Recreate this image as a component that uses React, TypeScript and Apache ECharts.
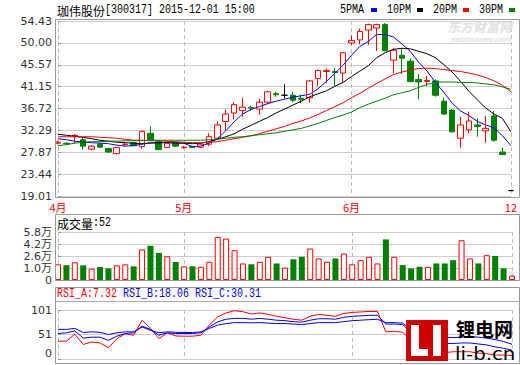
import React, { useEffect, useRef } from 'react';
import * as echarts from 'echarts';

// ---------- data ----------
const monthTickIndex = [0, 15, 35, 54];
const monthTickText = ['4月', '5月', '6月', '12'];
const priceTicks = [19.01, 23.44, 27.87, 32.29, 36.72, 41.15, 45.57, 50.0, 54.43];
const volumeTicks = [1.0, 2.6, 4.2, 5.8];
const volumeZeroTick = [0];
const rsiTicks = [0, 51, 101];

const open = [29.7, 29.7, 31.2, 30.4, 28.5, 29.5, 28.6, 27.6, 29.4, 29.8,
  29.0, 31.7, 30.0, 28.8, 29.7, 28.8, 29.0, 28.9, 29.5, 30.7,
  34.1, 35.8, 36.3, 36.9, 36.6, 38.0, 39.7, 39.4, 39.4, 38.8,
  38.9, 42.8, 44.2, 44.2, 43.9, 50.0, 50.6, 52.6, 53.0, 53.7,
  46.5, 47.5, 46.3, 42.6, 42.2, 42.3, 38.2, 36.4, 30.7, 32.4,
  33.4, 32.2, 35.2, 27.9, 20.1];
const close = [29.9, 29.6, 31.3, 29.1, 29.1, 28.9, 27.9, 28.8, 29.5, 29.2,
  32.1, 30.3, 28.4, 29.7, 29.1, 28.9, 28.8, 29.5, 31.0, 33.4,
  35.6, 37.5, 37.0, 36.8, 38.0, 40.1, 39.5, 39.4, 38.4, 38.6,
  42.3, 44.4, 44.4, 44.0, 48.0, 50.5, 52.3, 53.7, 53.7, 48.4,
  48.5, 46.9, 42.2, 42.1, 42.4, 39.4, 35.6, 32.0, 33.4, 34.2,
  33.1, 32.7, 30.3, 27.4, 20.1];
const low = [29.4, 29.4, 29.6, 28.4, 28.3, 28.7, 27.8, 27.4, 29.0, 29.1,
  28.6, 30.2, 28.3, 28.7, 29.0, 28.6, 28.7, 28.7, 29.1, 30.3,
  32.4, 34.5, 35.1, 36.3, 35.5, 37.6, 39.1, 38.8, 38.0, 37.8,
  37.9, 41.3, 41.9, 41.3, 42.0, 49.5, 49.7, 49.6, 48.4, 48.3,
  43.9, 43.7, 42.0, 38.6, 41.2, 39.1, 35.4, 31.8, 28.8, 31.7,
  31.0, 29.8, 30.0, 27.3, 20.1];
const high = [30.2, 29.9, 31.5, 31.0, 29.3, 29.8, 28.8, 28.9, 29.9, 30.0,
  32.2, 33.1, 30.4, 29.9, 29.8, 29.1, 29.2, 29.7, 31.7, 34.2,
  36.5, 38.0, 38.9, 37.3, 38.7, 40.3, 40.1, 41.6, 40.1, 39.5,
  42.4, 44.6, 44.8, 44.9, 48.1, 51.5, 52.9, 53.9, 53.9, 54.0,
  49.0, 48.9, 46.8, 43.7, 43.3, 42.6, 38.9, 36.6, 35.0, 36.1,
  34.7, 35.2, 36.2, 28.8, 20.1];

const ma5 = [30.6, 30.4, 30.1, 29.9, 29.8, 29.7, 29.6, 29.3, 29.1, 29.2,
  29.5, 29.8, 29.8, 29.9, 29.9, 29.7, 29.0, 29.1, 29.7, 30.6,
  32.2, 34.0, 35.6, 36.5, 37.1, 37.7, 38.2, 38.6, 39.0, 39.3,
  39.6, 40.7, 42.2, 43.8, 45.5, 47.5, 49.3, 50.3, 51.7, 51.7,
  51.2, 49.8, 48.3, 46.1, 44.3, 42.0, 40.0, 37.8, 36.2, 35.3,
  34.1, 33.4, 32.8, 31.2, 29.2];
const ma10 = [31.5, 31.3, 31.1, 30.9, 30.6, 30.3, 30.1, 29.9, 29.8, 29.7,
  29.6, 29.7, 29.8, 29.8, 29.7, 29.7, 29.6, 29.7, 30.0, 30.5,
  31.0, 31.6, 32.5, 33.3, 34.1, 34.9, 35.8, 36.6, 37.4, 38.2,
  39.1, 39.7, 40.3, 41.2, 42.0, 43.2, 44.3, 45.4, 47.0, 48.0,
  48.7, 48.9, 48.8, 48.3, 47.8, 47.0, 45.6, 44.1, 42.2, 40.2,
  38.5, 36.8, 35.6, 34.7, 32.0];
const ma20 = [31.0, 31.0, 31.0, 31.0, 31.0, 30.9, 30.8, 30.7, 30.5, 30.3,
  30.3, 30.2, 30.2, 30.1, 30.0, 29.9, 29.8, 29.8, 29.9, 30.0,
  30.3, 30.6, 30.9, 31.2, 31.6, 32.1, 32.6, 33.1, 33.7, 34.2,
  34.8, 35.5, 36.3, 37.1, 37.9, 38.9, 39.8, 40.8, 41.8, 42.7,
  43.6, 44.1, 44.5, 44.8, 44.9, 44.8, 44.6, 44.4, 44.2, 43.9,
  43.5, 43.0, 42.3, 41.4, 40.1];
const ma30 = [29.2, 29.4, 29.7, 29.9, 30.0, 30.0, 30.1, 30.1, 30.2, 30.2,
  30.2, 30.3, 30.3, 30.3, 30.3, 30.3, 30.3, 30.3, 30.4, 30.5,
  30.7, 30.9, 31.0, 31.2, 31.4, 31.6, 31.8, 32.1, 32.4, 32.7,
  33.2, 33.7, 34.3, 34.9, 35.4, 36.0, 36.9, 37.6, 38.2, 38.8,
  39.5, 39.9, 40.3, 41.0, 41.6, 42.0, 42.1, 42.1, 42.0, 42.0,
  41.9, 41.7, 41.5, 41.1, 40.6];

// volume in 万
const volume = [1.89, 1.77, 2.14, 1.77, 1.37, 1.56, 1.40, 1.77, 1.89, 1.65,
  3.69, 4.13, 3.27, 2.87, 2.17, 1.65, 1.65, 1.6, 2.2, 5.2,
  5.0, 3.6, 2.0, 1.9, 2.2, 2.8, 2.0, 1.5, 2.5, 2.8,
  3.8, 2.6, 2.2, 2.6, 3.2, 1.9, 2.4, 2.8, 2.0, 4.9,
  2.8, 1.8, 1.4, 1.6, 1.6, 2.0, 2.0, 2.4, 4.8, 2.6,
  2.0, 3.0, 2.9, 1.4, 0.52];
const volumeLabel = '52';

const rsiA = [36.5, 37, 51, 30, 35, 33, 23, 42, 52, 49,
  80, 63, 42, 54, 47.5, 47, 47, 49, 70, 87,
  95, 99.6, 97.5, 92.7, 95, 92, 88, 85, 82, 80,
  88, 92, 90, 88, 94, 96, 97, 98, 98, 56,
  57, 55, 39, 38, 36, 19, 13, 15, 15, 15,
  12, 11, 8, 8, 7.32];
const rsiB = [52.5, 54, 58, 43, 45, 45, 38.5, 47, 52.5, 54,
  67.7, 61, 49, 54, 52.5, 52.5, 52.5, 54, 66, 76.7,
  82, 83.7, 83.7, 82, 83.7, 82, 80, 79, 77, 76,
  80, 83, 83, 82, 86, 88, 89, 90, 90, 72,
  72, 71, 54, 52, 51, 34, 32, 32, 33, 33,
  31, 29, 25, 22, 18.06];
const rsiC = [61, 61, 63, 54.6, 56, 55, 50.4, 54, 56, 56,
  66, 59, 54, 56, 55, 54.6, 54.6, 56, 63, 70,
  73, 75, 75, 74.6, 75, 74, 73, 73, 72, 71,
  73, 75, 75, 75, 77, 79, 80, 81, 82, 75,
  75, 74, 61, 60, 60, 47, 45, 44, 45, 46,
  45, 43, 40, 36, 30.31];

const categories = open.map((_, i) => String(i + 1));

// ---------- helpers ----------
const RED = '#ff0000';
const GREEN = '#008000';
const BLUE = '#0000ff';
const CJK = '"Noto Sans CJK SC"';
const MONO = '"Liberation Mono"';
const MONO_SCALE = 6 / 7.2;

function txt(text: string, x: number, y: number, font: string, fill: string, extra: any = {}) {
  return {
    type: 'text', x, y, z: 60, silent: true,
    style: { text, font, fill, align: 'left', verticalAlign: 'middle', textAlign: 'left', textVerticalAlign: 'middle' },
    ...extra,
  };
}
function mono(text: string, x: number, y: number, fill: string) {
  return txt(text, x, y, `12px ${MONO}`, fill, { scaleX: MONO_SCALE });
}

function xAxis(gridIndex: number, showLabel: boolean) {
  return {
    type: 'category', gridIndex, data: categories, boundaryGap: false,
    axisLine: { show: false }, axisTick: { show: false },
    axisLabel: showLabel
      ? {
          show: true,
          interval: (i: number) => monthTickIndex.includes(i),
          formatter: (_v: string, i: number) => monthTickText[monthTickIndex.indexOf(i)] ?? '',
          color: RED, fontSize: 11, fontFamily: CJK, margin: 5,
        }
      : { show: false },
    splitLine: {
      show: true,
      interval: (i: number) => monthTickIndex.includes(i),
      lineStyle: { color: '#bdbdbd', type: [4, 3], width: 1 },
    },
  };
}

function yAxis(gridIndex: number, min: number, max: number, ticks: number[] | null, fmt: (v: number) => string,
  opts: { minAlign?: string; split?: boolean; label?: boolean } = {}) {
  const { minAlign = 'middle', split = true, label = true } = opts;
  return {
    type: 'value', gridIndex, min, max, position: 'left',
    axisLine: { show: false },
    axisTick: ticks ? { show: true, inside: true, length: 3, customValues: ticks, lineStyle: { color: '#999' } } : { show: false },
    axisLabel: label && ticks ? {
      customValues: ticks, formatter: fmt, color: '#333', fontSize: 11, lineHeight: 12,
      fontFamily: '"DejaVu Sans", ' + CJK, margin: 6,
      showMinLabel: true, showMaxLabel: true, hideOverlap: false,
      verticalAlignMinLabel: minAlign,
    } : { show: false },
    splitLine: { show: split, lineStyle: { color: '#cdcdcd', width: 1 } },
  };
}

function lineSeries(data: number[], color: string, xi: number, yi: number) {
  return {
    type: 'line', data, xAxisIndex: xi, yAxisIndex: yi, symbol: 'none', silent: true,
    lineStyle: { color, width: 1 }, itemStyle: { color },
  };
}

export default function App() {
  const ref = useRef<HTMLDivElement>(null);
  useEffect(() => {
    document.body.style.margin = '0';
    if (!ref.current) return;
    const chart = echarts.init(ref.current, undefined, { renderer: 'svg' });

    const candleData = open.map((o, i) => [o, close[i], low[i], high[i]]);
    const volData = volume.map((v, i) => ({
      value: v,
      itemStyle: close[i] >= open[i]
        ? { color: '#ffffff', borderColor: RED, borderWidth: 1 }
        : { color: GREEN, borderColor: GREEN, borderWidth: 0 },
    }));

    const frame = { fill: 'none', stroke: '#999', lineWidth: 1 };
    const last = (a: number[]) => a[a.length - 1].toFixed(2);
    const volFmt = (v: number) => (v === 0 ? '0' : v.toFixed(1) + '万');

    chart.setOption({
      animation: false,
      backgroundColor: '#ffffff',
      grid: [
        { left: 58, right: 8, top: 21, bottom: 169 },
        { left: 58, right: 8, top: 232, bottom: 85 },
        { left: 58, right: 8, top: 310, bottom: 6 },
      ],
      xAxis: [xAxis(0, true), xAxis(1, false), xAxis(2, false)],
      yAxis: [
        yAxis(0, 19.01, 54.43, priceTicks, (v: number) => v.toFixed(2)),
        // volume bars axis (0 at panel bottom)
        yAxis(1, 0, 5.8, null, volFmt, { split: false, label: false }),
        yAxis(2, 0, 101, rsiTicks, (v: number) => String(Math.round(v)), { minAlign: 'bottom' }),
        // volume tick labels / grid lines
        yAxis(1, -0.6, 5.8, volumeTicks, volFmt),
        // volume zero label
        yAxis(1, 0, 5.8, volumeZeroTick, volFmt, { split: false }),
      ],
      series: [
        {
          type: 'candlestick', data: candleData, xAxisIndex: 0, yAxisIndex: 0, barWidth: 6, silent: true,
          itemStyle: {
            color: '#ffffff', color0: GREEN, borderColor: RED, borderColor0: GREEN,
            borderColorDoji: '#000000', borderWidth: 1,
          },
        },
        lineSeries(ma5, BLUE, 0, 0),
        lineSeries(ma10, '#000000', 0, 0),
        lineSeries(ma20, RED, 0, 0),
        lineSeries(ma30, GREEN, 0, 0),
        { type: 'bar', data: volData, xAxisIndex: 1, yAxisIndex: 1, barWidth: 6, silent: true },
        lineSeries(rsiA, RED, 2, 2),
        lineSeries(rsiB, BLUE, 2, 2),
        lineSeries(rsiC, BLUE, 2, 2),
      ],
      graphic: [
        // frames
        { type: 'rect', z: 55, silent: true, shape: { x: 55.5, y: 19.5, width: 464, height: 178 }, style: frame },
        { type: 'rect', z: 55, silent: true, shape: { x: 55.5, y: 214.5, width: 464, height: 66 }, style: frame },
        { type: 'rect', z: 55, silent: true, shape: { x: 55.5, y: 287.5, width: 464, height: 76 }, style: frame },
        { type: 'line', z: 55, silent: true, shape: { x1: 55.5, y1: 301.5, x2: 519.5, y2: 301.5 }, style: { stroke: '#aaa', lineWidth: 1 } },
        // header
        txt('珈伟股份', 57, 10, `12px ${CJK}`, '#000'),
        mono('[300317] 2015-12-01 15:00', 105, 10, '#000'),
        mono('5PMA', 340, 10, '#000'),
        { type: 'rect', z: 60, silent: true, shape: { x: 371, y: 8, width: 6, height: 4 }, style: { fill: BLUE } },
        mono('10PM', 387, 10, '#000'),
        { type: 'rect', z: 60, silent: true, shape: { x: 417, y: 8, width: 6, height: 4 }, style: { fill: '#000' } },
        mono('20PM', 433, 10, '#000'),
        { type: 'rect', z: 60, silent: true, shape: { x: 463, y: 8, width: 6, height: 4 }, style: { fill: RED } },
        mono('30PM', 479, 10, '#000'),
        { type: 'rect', z: 60, silent: true, shape: { x: 509, y: 8, width: 6, height: 4 }, style: { fill: GREEN } },
        // watermark
        txt('东方财富网', 447, 26, `italic bold 13px ${CJK}`, '#e0e0e0', { z: 1 }),
        txt('eastmoney.com', 451, 39.5, 'italic bold 8px "Liberation Sans"', '#e0e0e0', { z: 1 }),
        // volume header
        txt('成交量', 57, 223, `12px ${CJK}`, '#000'),
        mono(':' + volumeLabel, 93, 223, '#000'),
        // rsi header
        mono('RSI_A:' + last(rsiA), 57, 294, RED),
        mono('RSI_B:' + last(rsiB), 123, 294, BLUE),
        mono('RSI_C:' + last(rsiC), 195, 294, BLUE),
        // logo
        { type: 'rect', z: 70, silent: true, shape: { x: 406, y: 320, width: 42, height: 41 }, style: { fill: '#d00000' } },
        { type: 'rect', z: 71, silent: true, shape: { x: 411, y: 325, width: 8, height: 31 }, style: { fill: '#ffffff' } },
        { type: 'rect', z: 71, silent: true, shape: { x: 411, y: 349, width: 17, height: 7 }, style: { fill: '#ffffff' } },
        { type: 'rect', z: 71, silent: true, shape: { x: 433, y: 325, width: 8, height: 31 }, style: { fill: '#ffffff' } },
        txt('锂电网', 456, 328, `bold 19px ${CJK}`, '#000', { z: 72 }),
        txt('li-b.cn', 455, 353, '18px "DejaVu Sans"', '#000', { z: 72, scaleX: 1.1 }),
      ],
    });
    return () => chart.dispose();
  }, []);
  return <div ref={ref} style={{ width: 520, height: 365 }} />;
}
